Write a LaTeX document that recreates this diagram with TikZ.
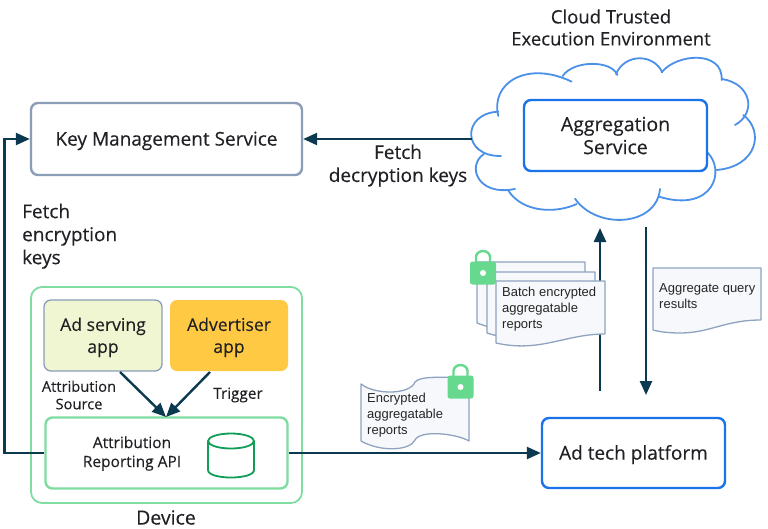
\documentclass[tikz,border=0pt]{standalone}
\usepackage{fontspec}
\setmainfont{Open Sans}[FakeBold=0.25]
\newfontfamily\docfont{Liberation Sans}
\usetikzlibrary{arrows.meta,positioning}
\definecolor{ink}{HTML}{202124}
\definecolor{conn}{HTML}{0B3A50}
\definecolor{slatebd}{HTML}{8C9DB8}
\definecolor{blueln}{HTML}{1A73E8}
\definecolor{cloudln}{HTML}{4A90E8}
\definecolor{greenln}{HTML}{7FDDA0}
\definecolor{cylln}{HTML}{0F9D58}
\definecolor{lockg}{HTML}{66D98E}
\definecolor{papr}{HTML}{F6F8FB}
\definecolor{docbd}{HTML}{8FA3C0}
\definecolor{adservfill}{HTML}{F0F6D2}
\definecolor{advertfill}{HTML}{FFC944}
\newcommand{\lowtxt}[2]{\raisebox{0pt}[\dimexpr\height+#1pt\relax][\depth]{\begin{tabular}{@{}c@{}}#2\end{tabular}}}
\tikzset{
  x=1pt,y=-1pt,
  box/.style={draw,rounded corners=7pt,line width=2.4pt,align=center,text=ink,font=\fontsize{19}{23}\selectfont,inner sep=0pt},
  appbox/.style={box,font=\fontsize{17.6}{22}\selectfont},
  conn/.style={draw=conn,line width=2.4pt},
  arr/.style={conn,-{Triangle[length=14pt,width=12pt]}},
  lbl/.style={text=ink,font=\fontsize{19}{23}\selectfont,align=left,inner sep=0pt},
  small/.style={text=ink,font=\fontsize{14.7}{17.5}\selectfont,align=center,inner sep=0pt},
  doctxt/.style={text=black!85,font=\docfont\fontsize{13}{16}\selectfont,align=left,inner sep=0pt,anchor=north west},
  sheet/.style={draw=docbd,fill=papr,line width=1.3pt,line join=round},
  lockbody/.style={fill=lockg,rounded corners=2.5pt},
  lockarc/.style={draw=lockg,line width=2.4pt},
  cloudl/.style={draw=cloudln,line width=1.8pt,line cap=round}
}
\newcommand{\lockicon}[2]{%
  \begin{scope}[shift={(#1,#2)}]
    \draw[lockarc] (-7,12) -- (-7,7) arc[start angle=180,end angle=0,x radius=7,y radius=-6] -- (7,12);
    \fill[lockbody] (-13,11.5) rectangle (13,34.5);
    \fill[white] (0,23) circle (3pt);
  \end{scope}}
\begin{document}
\begin{tikzpicture}
\useasboundingbox (0,0) rectangle (768,528);
\fill[white] (0,0) rectangle (768,528);

% cloud
\begin{scope}[shift={(460,0)},x=0.3333pt,y=-0.3333pt]
  \fill[white] (115,340) .. controls (90,250) and (200,180) .. (320,238)
   .. controls (340,180) and (455,180) .. (470,222)
   .. controls (495,160) and (580,160) .. (605,216)
   .. controls (650,160) and (790,150) .. (785,238)
   .. controls (875,250) and (890,340) .. (850,345)
   .. controls (915,395) and (890,500) .. (770,510)
   .. controls (800,510) and (760,640) .. (597,590)
   .. controls (590,680) and (410,690) .. (345,604)
   .. controls (290,640) and (190,640) .. (150,570)
   .. controls (50,590) and (20,495) .. (72,462)
   .. controls (5,470) and (5,340) .. (115,340) -- cycle;
  \draw[cloudl] (115,348) .. controls (90,250) and (200,180) .. (335,245);
  \draw[cloudl] (308,228) .. controls (340,180) and (455,180) .. (472,225);
  \draw[cloudl] (468,222) .. controls (495,160) and (580,160) .. (607,217);
  \draw[cloudl] (605,217) .. controls (650,160) and (790,150) .. (785,240);
  \draw[cloudl] (785,237) .. controls (875,250) and (890,340) .. (825,375);
  \draw[cloudl] (850,345) .. controls (915,395) and (890,500) .. (770,510);
  \draw[cloudl] (740,455) .. controls (800,510) and (760,640) .. (597,590);
  \draw[cloudl] (600,567) .. controls (590,680) and (410,690) .. (345,596);
  \draw[cloudl] (350,612) .. controls (290,640) and (190,640) .. (145,572);
  \draw[cloudl] (165,567) .. controls (50,590) and (20,495) .. (72,462);
  \draw[cloudl] (123,468) .. controls (5,470) and (5,340) .. (115,335);
\end{scope}

% nodes
\node[box,draw=slatebd,minimum width=271pt,minimum height=72pt] (kms) at (166.5,139) {\lowtxt{4}{Key Management Service}};
\node[box,draw=blueln,fill=white,font=\fontsize{19.5}{23}\selectfont,minimum width=183pt,minimum height=71pt] (agg) at (615.5,135.5) {\lowtxt{5}{Aggregation\\Service}};
\node[box,draw=blueln,fill=white,minimum width=183pt,minimum height=70pt] (adtech) at (633.5,453) {\lowtxt{4}{Ad tech platform}};
\node[box,draw=greenln,line width=1.8pt,rounded corners=11pt,minimum width=271pt,minimum height=216pt] (device) at (166.5,395) {};
\node[appbox,draw=slatebd,line width=1.3pt,fill=adservfill,minimum width=118pt,minimum height=71pt] (adserv) at (103,335.5) {\lowtxt{4}{Ad serving\\app}};
\node[appbox,draw=none,fill=advertfill,minimum width=118pt,minimum height=71pt] (advert) at (229,335.5) {\lowtxt{4}{Advertiser\\app}};
\node[box,draw=greenln,minimum width=242pt,minimum height=71pt] (api) at (166.5,453) {};
\node[small,font=\fontsize{15.5}{19}\selectfont] (apitxt) at (132,453.5) {Attribution\\Reporting API};

\node[lbl,align=center,font=\fontsize{18.5}{22}\selectfont] (cloudt) at (611,27.5) {Cloud Trusted\\Execution Environment};
\node[lbl,anchor=north west] (fek) at (22,199.5) [yshift=-4pt] {Fetch\\encryption\\keys};
\node[lbl,align=center] (fdk) at (398,165.5) {Fetch\\decryption keys};
\node[small] (asrc) at (79,395) {Attribution\\Source};
\node[small,font=\fontsize{15.3}{19}\selectfont] (trig) at (238,395) {Trigger};
\node[lbl,font=\fontsize{19.5}{23}\selectfont] (dev) at (166,517.5) {Device};

% connectors
\coordinate (cloudw) at (472,139);
\draw[arr] (cloudw) -- (kms.east);
\draw[arr] (api.west) -- ++(-40,0) |- (kms.west);
\draw[arr] (api.east) -- (adtech.west);
\coordinate (upS) at (600,391);
\coordinate (upE) at (600,228);
\coordinate (dnS) at (646,227);
\coordinate (dnE) at (646,395);
\draw[arr] (upS) -- (upE);
\draw[arr] (dnS) -- (dnE);
\coordinate (srcS) at (120,372);
\coordinate (trgS) at (210,372);
\coordinate (apiT) at (166,417);
\draw[arr] (srcS) -- (apiT);
\draw[arr] (trgS) -- (apiT);

% cylinder
\draw[draw=cylln,line width=1.8pt] (208,441) -- (208,470) .. controls (208,480) and (254,480) .. (254,470) -- (254,441);
\draw[draw=cylln,line width=1.8pt] (231,441) ellipse (23pt and 7.5pt);

% batch sheets
\path[sheet] (477,262) -- (585,262) -- (585,322) .. controls (550,322) and (520,340) .. (477,323) -- cycle;
\path[sheet] (487,272) -- (595,272) -- (595,330) .. controls (560,330) and (530,347) .. (487,333) -- cycle;
\path[sheet] (496,281) -- (605,281) -- (605,334) .. controls (565,334) and (540,353) .. (496,343) -- cycle;
\node[doctxt] (batch) at (502,287) {Batch encrypted\\aggregatable\\reports};
\lockicon{483}{250}

% encrypted flag
\path[sheet] (361,384) .. controls (375,395) and (410,395) .. (415,382) .. controls (420,376) and (440,377) .. (469,378)
  -- (469,441) .. controls (455,433) and (420,430) .. (415,440) .. controls (410,451) and (380,452) .. (361,441) -- cycle;
\node[doctxt] (enc) at (367,393) {Encrypted\\aggregatable\\reports};
\lockicon{460.5}{364}

% query sheet
\path[sheet] (653,268) -- (761,268) -- (761,320) .. controls (725,320) and (710,333) .. (680,333) .. controls (670,333) and (660,332) .. (653,330) -- cycle;
\node[doctxt] (query) at (659,283) {Aggregate query\\results};
\end{tikzpicture}
\end{document}
